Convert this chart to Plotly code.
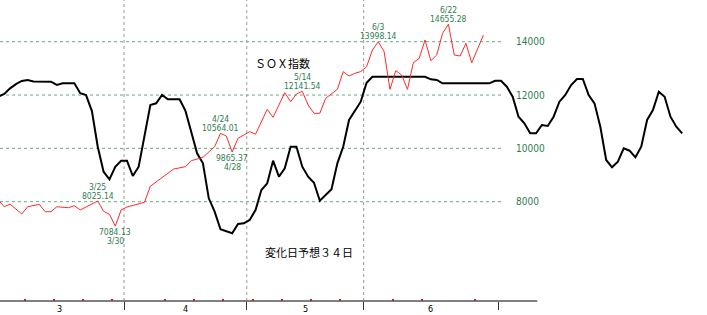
import plotly.graph_objects as go

# ---- data (x = trading-day index, 0 = first trading day of March) ----
red_x = [0, 1, 2, 4, 5, 7, 8, 9, 10, 12, 13, 14, 17, 18, 19, 20, 21, 22, 25, 26, 30, 32, 33, 35, 37,
         38, 39, 40, 41, 43, 44, 46, 47, 49, 50, 51, 52, 53, 54, 55, 56, 58, 59, 60, 61, 62, 63, 64,
         65, 66, 67, 68, 69, 70, 71, 72, 73, 74, 75, 76, 77, 78, 79, 80, 81, 83]
red_y = [8060, 7810, 7910, 7540, 7810, 7900, 7625, 7625, 7810, 7775, 7850, 7690, 8025.14, 7640, 7530,
         7084.13, 7690, 7800, 7980, 8580, 9226, 9312, 9537, 9665, 10062, 10564.01, 10464, 9865.37,
         10377, 10625, 10530, 11465, 11165, 12087, 11750, 12039, 12141.54, 11626, 11315, 11315, 11877,
         12215, 12875, 12714, 12815, 12880, 13060, 13689, 13998.14, 13625, 12215, 12912, 12751, 12215,
         13212, 13377, 14064, 13287, 13501, 14315, 14655.28, 13501, 13464, 13940, 13212, 14251]

black_x = [0, 1, 2, 3, 4, 5, 6, 9, 10, 11, 13, 14, 15, 16, 17, 18, 19, 20, 21, 22, 23, 24, 26, 27, 28,
           29, 31, 32, 34, 35, 36, 37, 38, 40, 41, 42, 43, 44, 45, 46, 47, 48, 49, 50, 51, 52, 53, 54,
           55, 56, 57, 58, 59, 60, 62, 63, 64, 73, 74, 75, 76, 84, 85, 86, 87, 88, 89, 90, 91, 92, 93,
           94, 95, 96, 97, 98, 99, 100, 101, 102, 103, 104, 105, 106, 107, 108, 109, 110, 111, 112,
           113, 114, 115, 116, 117]
black_y = [11940, 12040, 12250, 12410, 12530, 12560, 12510, 12500, 12380, 12440, 12440, 12070, 12000,
           11400, 10060, 9125, 8840, 9312, 9537, 9537, 8964, 9312, 11626, 11690, 12001, 11840, 11840,
           11412, 9815, 9440, 8127, 7625, 6965, 6815, 7164, 7190, 7314, 7689, 8439, 8690, 9537, 8937,
           9252, 10062, 10062, 9312, 8937, 8712, 8037, 8251, 8465, 9440, 10062, 11064, 11750, 12462,
           12687, 12687, 12590, 12564, 12440, 12440, 12537, 12537, 12312, 11937, 11187, 10940, 10565,
           10565, 10876, 10839, 11187, 11750, 12001, 12376, 12601, 12601, 12001, 11690, 10812, 9564,
           9290, 9500, 10002, 9912, 9665, 10062, 11064, 11440, 12125, 11937, 11187, 10812, 10565]

high_days = [17, 38, 52, 65, 77]
high_dates = ["3/25", "4/24", "5/14", "6/3", "6/22"]
high_vals = [8025.14, 10564.01, 12141.54, 13998.14, 14655.28]
low_days = [20, 40]
low_dates = ["3/30", "4/28"]
low_vals = [7084.13, 9865.37]

month_bounds = [-0.5, 21.5, 42.5, 62.5, 85.5]
month_labels = ["3", "4", "5", "6"]
week_ticks = [4.5, 9.5, 14.5, 19.5, 28.5, 33.5, 38.5, 43.5, 48.5, 53.5, 58.5, 67.5, 72.5, 81.5]
y_grid = [8000, 10000, 12000, 14000]

X_RANGE = [0.274, 121.25]
Y_RANGE = [4276, 15564]
GRID_END = 86.2
AXIS_END = 92.2
LABEL_X = 88.3

GREEN = "#2e7d4f"
NARROW = "Liberation Sans Narrow, DejaVu Sans Condensed, Arial Narrow, sans-serif"
JP = "Noto Sans CJK JP, sans-serif"

fig = go.Figure()
fig.add_trace(go.Scatter(x=black_x, y=black_y, mode="lines",
                         line=dict(color="black", width=2), hoverinfo="skip"))
fig.add_trace(go.Scatter(x=red_x, y=red_y, mode="lines",
                         line=dict(color="#ff2a2a", width=1), hoverinfo="skip"))

shapes = []
for v in y_grid:
    shapes.append(dict(type="line", xref="x", yref="y", x0=X_RANGE[0], x1=GRID_END, y0=v, y1=v,
                       line=dict(color="#6aa982", width=1, dash="dot"), layer="below"))
for b in month_bounds[1:-1]:
    shapes.append(dict(type="line", xref="x", yref="paper", x0=b, x1=b, y0=0, y1=1,
                       line=dict(color="#9a9a9a", width=1, dash="dot"), layer="below"))
shapes.append(dict(type="line", xref="x", yref="paper", x0=X_RANGE[0], x1=AXIS_END, y0=0, y1=0,
                   line=dict(color="#555555", width=1.5)))

ann = []
for v in y_grid:
    ann.append(dict(x=LABEL_X, y=v, xref="x", yref="y", text=str(v), showarrow=False,
                    xanchor="left", yanchor="middle",
                    font=dict(family=NARROW, size=10, color=GREEN)))
for d, t, v in zip(high_days, high_dates, high_vals):
    ann.append(dict(x=d, y=v, text=f"{v:.2f}", showarrow=False, xanchor="center", yanchor="middle",
                    yshift=5.5, font=dict(family=NARROW, size=8.5, color=GREEN)))
    ann.append(dict(x=d, y=v, text=t, showarrow=False, xanchor="center", yanchor="middle",
                    yshift=14.5, font=dict(family=NARROW, size=8.5, color=GREEN)))
for d, t, v in zip(low_days, low_dates, low_vals):
    ann.append(dict(x=d, y=v, text=f"{v:.2f}", showarrow=False, xanchor="center", yanchor="middle",
                    yshift=-6, font=dict(family=NARROW, size=8.5, color=GREEN)))
    ann.append(dict(x=d, y=v, text=t, showarrow=False, xanchor="center", yanchor="middle",
                    yshift=-15, font=dict(family=NARROW, size=8.5, color=GREEN)))
for i, lab in enumerate(month_labels):
    mid = (month_bounds[i] + month_bounds[i + 1]) / 2
    ann.append(dict(x=mid, y=0, xref="x", yref="paper", text=lab, showarrow=False,
                    xanchor="center", yanchor="top", yshift=-1,
                    font=dict(family=NARROW, size=9, color="black")))
ann.append(dict(x=0.3996, y=0.7907, xref="paper", yref="paper", text="ＳＯＸ指数", showarrow=False,
                xanchor="center", yanchor="middle", font=dict(family=JP, size=11, color="black")))
ann.append(dict(x=0.437, y=0.1618, xref="paper", yref="paper", text="変化日予想３４日", showarrow=False,
                xanchor="center", yanchor="middle", font=dict(family=JP, size=11, color="black")))

fig.update_layout(
    width=707, height=315,
    margin=dict(l=0, r=0, t=0, b=14),
    paper_bgcolor="white", plot_bgcolor="white",
    showlegend=False,
    shapes=shapes, annotations=ann,
    xaxis=dict(range=X_RANGE, showgrid=False, zeroline=False, showline=False,
               tickmode="array", tickvals=month_bounds[1:], ticktext=["" for _ in month_bounds[1:]],
               ticks="outside", ticklen=8, tickwidth=1, tickcolor="#333333",
               minor=dict(tickmode="array", tickvals=week_ticks, ticks="inside", ticklen=2,
                          tickwidth=2, tickcolor="red", showgrid=False)),
    yaxis=dict(range=Y_RANGE, showgrid=False, zeroline=False, showline=False,
               showticklabels=False, ticks=""),
)
fig.write_html("out.html")
